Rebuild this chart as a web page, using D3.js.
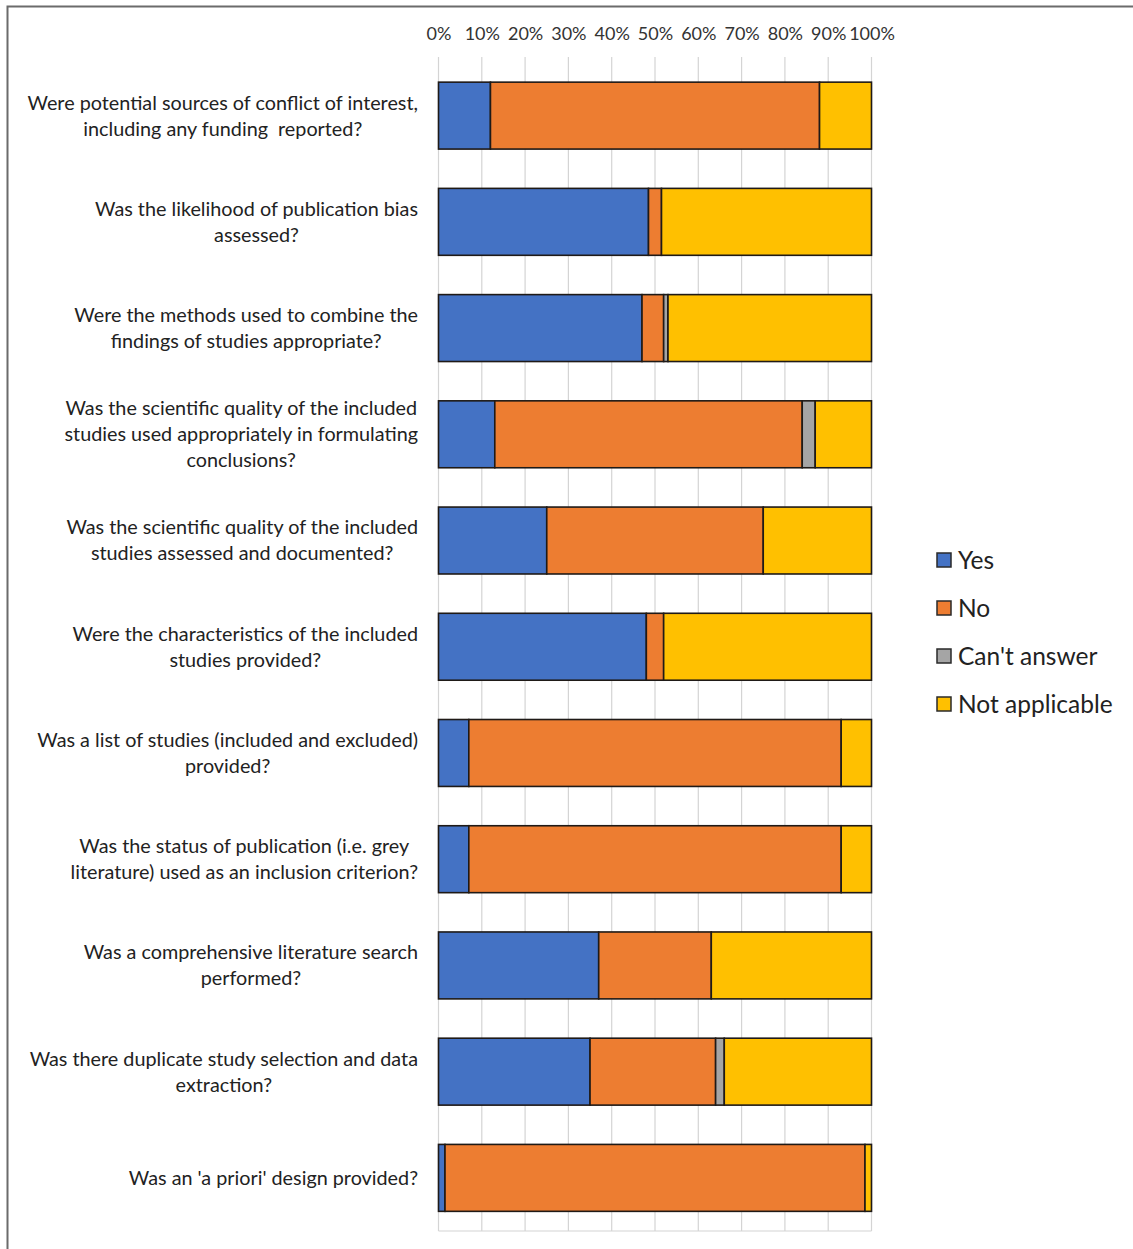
<!DOCTYPE html>
<html>
<head>
<meta charset="utf-8">
<script src="https://cdn.jsdelivr.net/npm/d3@7"></script>
<style>
  body { margin: 0; background: #fff; }
  svg { display: block; font-family: Lato, "Open Sans", sans-serif; }
</style>
</head>
<body>
<svg id="drawing_region"></svg>
<script>
// questions, top to bottom (each entry = label lines)
const questions = [
    ["Were potential sources of conflict of interest,", "including any funding  reported?"],
    ["Was the likelihood of publication bias", "assessed?"],
    ["Were the methods used to combine the", "findings of studies appropriate?"],
    ["Was the scientific quality of the included", "studies used appropriately in formulating", "conclusions?"],
    ["Was the scientific quality of the included", "studies assessed and documented?"],
    ["Were the characteristics of the included", "studies provided?"],
    ["Was a list of studies (included and excluded)", "provided?"],
    ["Was the status of publication (i.e. grey", "literature) used as an inclusion criterion?"],
    ["Was a comprehensive literature search", "performed?"],
    ["Was there duplicate study selection and data", "extraction?"],
    ["Was an 'a priori' design provided?"]
];

const seriesNames = ["Yes", "No", "Can't answer", "Not applicable"];
const seriesColors = ["#4472C4", "#ED7D31", "#A5A5A5", "#FFC000"];

// percentages per question
const yesValues    = [12, 48.5, 47, 13, 25, 48, 7, 7, 37, 35, 1.5];
const noValues     = [76, 3, 5, 71, 50, 4, 86, 86, 26, 29, 97];
const cantValues   = [0, 0, 1, 3, 0, 0, 0, 0, 0, 2, 0];
const naValues     = [12, 48.5, 47, 13, 25, 48, 7, 7, 37, 34, 1.5];

const xTicks = [0, 10, 20, 30, 40, 50, 60, 70, 80, 90, 100];

const config = {
    width: 1133,
    height: 1249,
    left: 438.5,
    right: 871.5,
    top: 62.5,
    bottom: 1231
};

const svg = d3.select('#drawing_region')
    .attr('width', config.width)
    .attr('height', config.height);

// outer frame (only top and left edges visible)
svg.append('path')
    .attr('d', `M7.5,${config.height} V6.5 H${config.width}`)
    .attr('fill', 'none')
    .attr('stroke', '#6b6b6b')
    .attr('stroke-width', 2);

const rows = questions.map((q, i) => ({
    idx: i,
    label: q,
    values: [yesValues[i], noValues[i], cantValues[i], naValues[i]]
}));

const xscale = d3.scaleLinear()
    .domain([0, 100])
    .range([config.left, config.right]);

const yscale = d3.scaleBand()
    .domain(rows.map(d => d.idx))
    .range([config.top, config.bottom])
    .paddingInner(0.37)
    .paddingOuter(0.185);

// gridlines
svg.append('g')
    .selectAll('line')
    .data(xTicks)
    .join('line')
    .attr('x1', d => xscale(d))
    .attr('x2', d => xscale(d))
    .attr('y1', 57)
    .attr('y2', config.bottom)
    .attr('stroke', '#d4d4d4')
    .attr('stroke-width', 1.2);

svg.append('line')
    .attr('x1', xscale(0))
    .attr('x2', xscale(100))
    .attr('y1', config.bottom)
    .attr('y2', config.bottom)
    .attr('stroke', '#d4d4d4')
    .attr('stroke-width', 1.2);

// top axis tick labels
const xaxis = d3.axisTop(xscale)
    .tickValues(xTicks)
    .tickFormat(d => d + '%')
    .tickSize(0)
    .tickPadding(0);

const xaxis_group = svg.append('g')
    .attr('transform', 'translate(0, 40)')
    .call(xaxis);
xaxis_group.select('.domain').remove();
xaxis_group.selectAll('text')
    .attr('font-family', 'Lato, sans-serif')
    .attr('font-size', '18px')
    .attr('fill', '#333');

// stacked bars
const stacked = rows.map(r => {
    let acc = 0;
    return r.values.map((v, k) => {
        const seg = { idx: r.idx, k: k, x0: acc, x1: acc + v };
        acc += v;
        return seg;
    });
});

svg.append('g')
    .selectAll('g')
    .data(stacked)
    .join('g')
    .selectAll('rect')
    .data(d => d.filter(s => s.x1 > s.x0))
    .join('rect')
    .attr('x', d => xscale(d.x0))
    .attr('y', d => yscale(d.idx))
    .attr('width', d => xscale(d.x1) - xscale(d.x0))
    .attr('height', yscale.bandwidth())
    .attr('fill', d => seriesColors[d.k])
    .attr('stroke', '#1f1a17')
    .attr('stroke-width', 1.6);

// category labels: block right-aligned at 418, lines centred within block
const lineH = 26;
const labelRight = 418;
const labels = svg.append('g')
    .selectAll('text')
    .data(rows)
    .join('text')
    .attr('text-anchor', 'middle')
    .attr('font-size', '19.8px')
    .attr('fill', '#222');

labels.each(function (d) {
    const cy = yscale(d.idx) + yscale.bandwidth() / 2;
    const n = d.label.length;
    const spans = d3.select(this).selectAll('tspan')
        .data(d.label)
        .join('tspan')
        .attr('y', (t, j) => cy + (j - (n - 1) / 2) * lineH)
        .attr('dy', '0.35em')
        .style('white-space', 'pre')
        .text(t => t);
    let maxW = 0;
    spans.each(function () { maxW = Math.max(maxW, this.getComputedTextLength()); });
    spans.attr('x', labelRight - maxW / 2);
});

// legend
const legend = svg.append('g')
    .selectAll('g')
    .data(seriesNames)
    .join('g')
    .attr('transform', (d, i) => `translate(937, ${560 + i * 48})`);

legend.append('rect')
    .attr('x', 0)
    .attr('y', -7)
    .attr('width', 14)
    .attr('height', 14)
    .attr('fill', (d, i) => seriesColors[i])
    .attr('stroke', '#2a2a2a')
    .attr('stroke-width', 1.5);

legend.append('text')
    .attr('x', 21)
    .attr('y', 0)
    .attr('dy', '0.35em')
    .attr('font-size', '24.5px')
    .attr('fill', '#222')
    .text(d => d);
</script>
</body>
</html>
